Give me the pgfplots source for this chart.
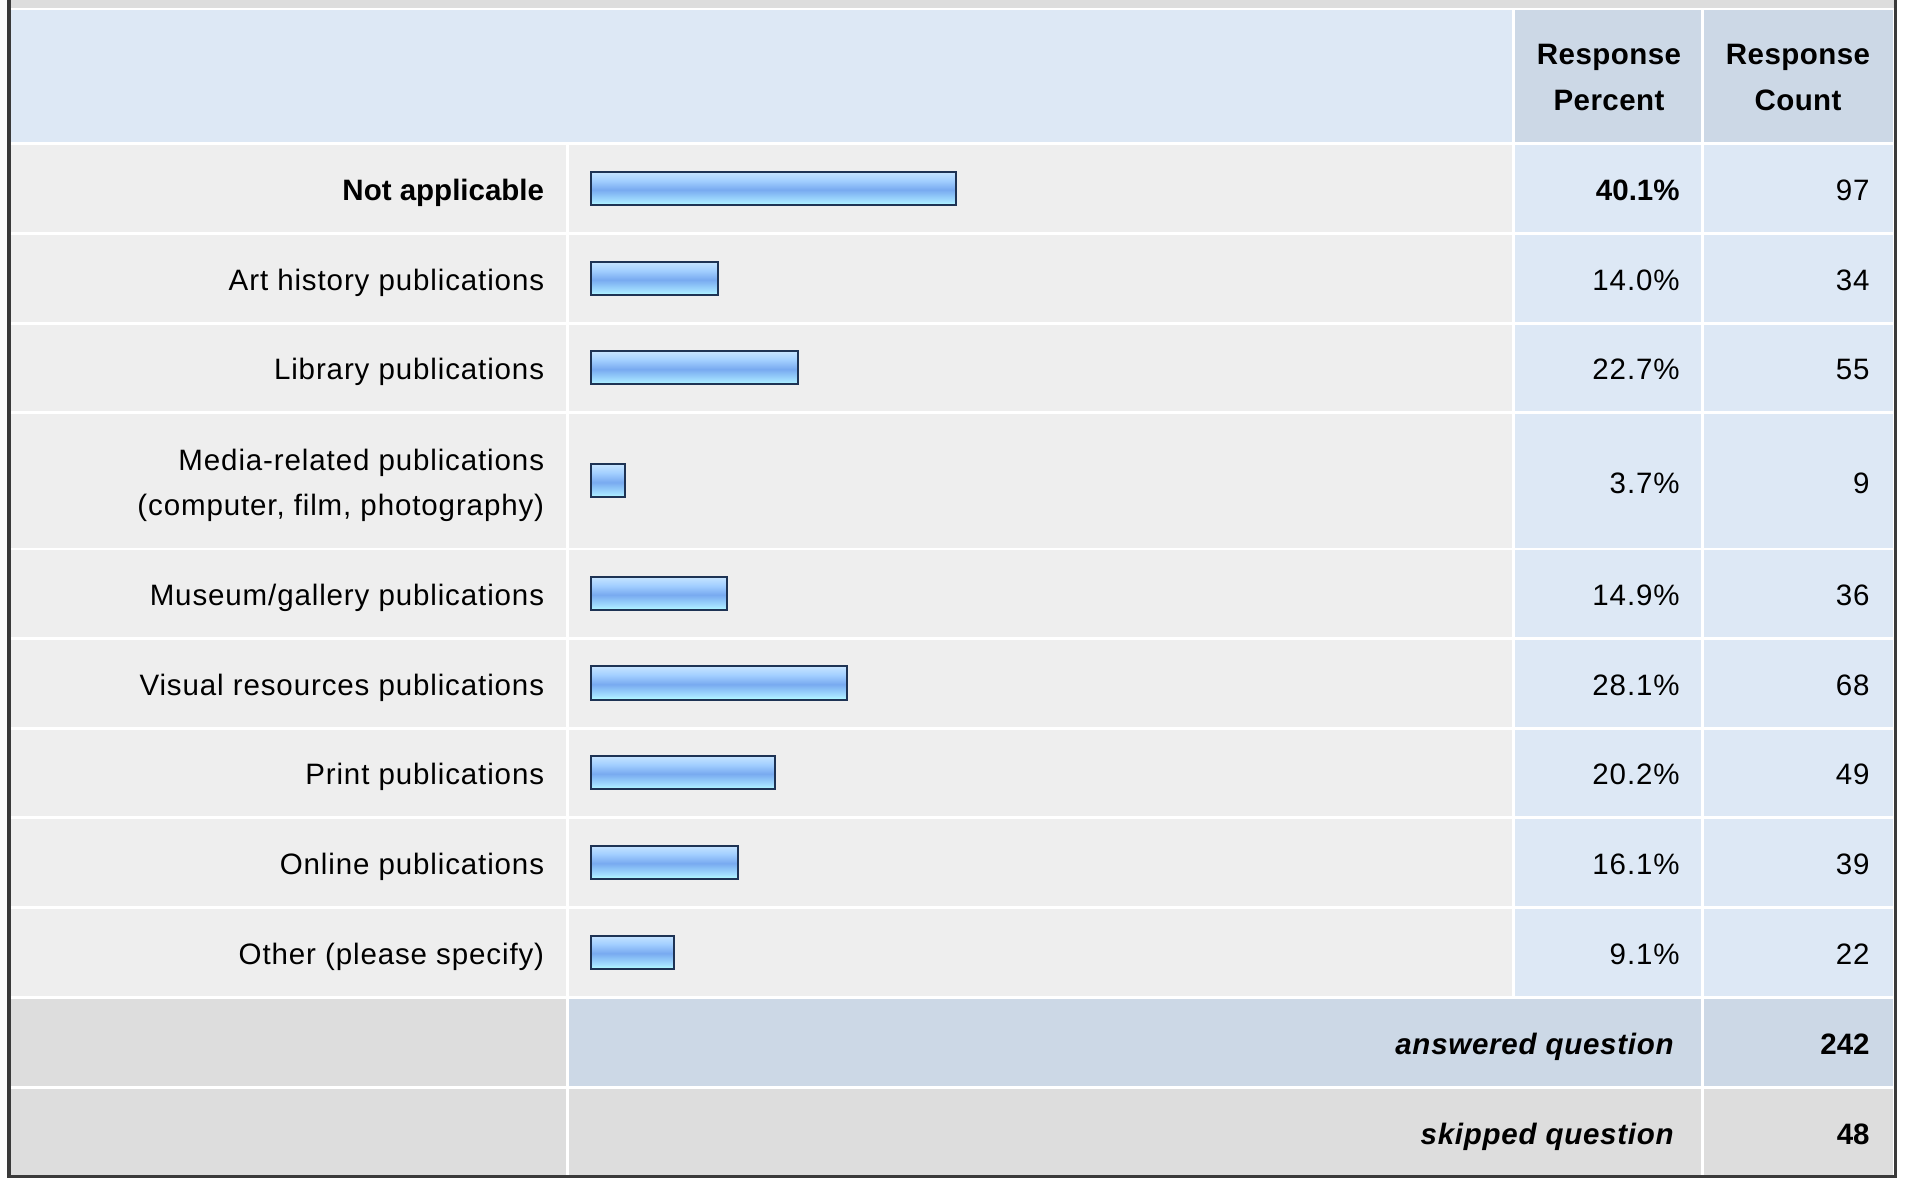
\documentclass[border=0pt]{standalone}
\usepackage{fontspec}
\setmainfont{Liberation Sans}
\usepackage{pgfplots}
\pgfplotsset{compat=1.18}
\definecolor{hdrblue}{HTML}{DDE8F5}
\definecolor{hdrdark}{HTML}{CCD8E6}
\definecolor{rowgrey}{HTML}{EEEEEE}
\definecolor{footgrey}{HTML}{DDDDDD}
\definecolor{bordercol}{HTML}{3A3A3A}
\definecolor{barborder}{HTML}{1E3354}
\definecolor{barbot}{HTML}{B2FDFF}
\definecolor{barlow}{HTML}{A4E0FF}
\definecolor{barmid}{HTML}{78AAF0}
\definecolor{barup}{HTML}{A2CFFF}
\definecolor{bartop}{HTML}{C6E4FF}
\pgfdeclareverticalshading{barshade}{100bp}{color(0bp)=(barbot); color(25bp)=(barbot); color(31bp)=(barlow); color(48bp)=(barmid); color(62bp)=(barup); color(75bp)=(bartop); color(100bp)=(bartop)}
\pgfplotsset{barsty/.style={draw=barborder, line width=1bp, shading=barshade}}
\newcommand\fs{\fontsize{14.75bp}{22.5bp}\selectfont}
\newcommand\rg{\addfontfeatures{LetterSpace=3}}
\newcommand\bi{\bfseries\itshape\addfontfeatures{LetterSpace=2.5}}
\newcommand\hb{\bfseries\addfontfeatures{LetterSpace=1.5}}
\begin{document}
\begin{tikzpicture}
\begin{scope}[x=0.5bp,y=-0.5bp]
\path[use as bounding box] (0,0) rectangle (1909,1178);
\fill[white] (0,0) rectangle (1909,1178);
\fill[footgrey] (8,0) rectangle (1896,8.5);
% header
\fill[hdrblue] (11,10) rectangle (1512,142.5);
\fill[hdrdark] (1514.5,10) rectangle (1701,142.5);
\fill[hdrdark] (1703.5,10) rectangle (1893,142.5);
% data rows
\foreach \t/\b in {145/232.5, 235/322.5, 325/411.5, 414/548, 550/637, 639.5/727, 729.5/816, 818.5/906, 908.5/996}{
  \fill[rowgrey] (11,\t) rectangle (566,\b);
  \fill[rowgrey] (568.5,\t) rectangle (1512,\b);
  \fill[hdrblue] (1514.5,\t) rectangle (1701,\b);
  \fill[hdrblue] (1703.5,\t) rectangle (1893,\b);
}
% answered
\fill[footgrey] (11,998.5) rectangle (566,1086);
\fill[hdrdark] (568.5,998.5) rectangle (1701,1086);
\fill[hdrdark] (1703.5,998.5) rectangle (1893,1086);
% skipped
\fill[footgrey] (11,1088.5) rectangle (566,1175);
\fill[footgrey] (568.5,1088.5) rectangle (1701,1175);
\fill[footgrey] (1703.5,1088.5) rectangle (1893,1175);
% frame
\fill[bordercol] (7,0) rectangle (10.5,1178);
\fill[bordercol] (1893.5,0) rectangle (1897,1178);
\fill[bordercol] (7,1175) rectangle (1897,1178);
\end{scope}

\begin{axis}[
  at={(295.5bp,0bp)}, anchor=north west,
  x=4.55bp, y=0.5bp,
  xmin=0, xmax=80, ymin=-1178, ymax=0,
  axis lines=none, clip=false,
  xbar, bar width=33, bar shift=0pt,
]
\addplot[barsty] coordinates {(40.1,-188.5)};
\addplot[barsty] coordinates {(14.0,-278.5)};
\addplot[barsty] coordinates {(22.7,-368)};
\addplot[barsty] coordinates {(3.7,-481)};
\addplot[barsty] coordinates {(14.9,-593.5)};
\addplot[barsty] coordinates {(28.1,-683)};
\addplot[barsty] coordinates {(20.2,-772.5)};
\addplot[barsty] coordinates {(16.1,-862)};
\addplot[barsty] coordinates {(9.1,-952)};
\end{axis}

\begin{scope}[x=0.5bp,y=-0.5bp, every node/.style={inner sep=0pt, font=\fs}]
% header
\node[anchor=base] at (1609,65) {\hb Response};
\node[anchor=base] at (1609,111) {\hb Percent};
\node[anchor=base] at (1798,65) {\hb Response};
\node[anchor=base] at (1798,111) {\hb Count};
% labels
\node[anchor=base east] at (544.5,200.5) {\bfseries Not applicable};
\node[anchor=base east] at (544.5,290.5) {\rg Art history publications};
\node[anchor=base east] at (544.5,380) {\rg Library publications};
\node[anchor=base east] at (544.5,470) {\rg Media-related publications};
\node[anchor=base east] at (544.5,515) {\rg (computer, film, photography)};
\node[anchor=base east] at (544.5,605.5) {\rg Museum/gallery publications};
\node[anchor=base east] at (544.5,695) {\rg Visual resources publications};
\node[anchor=base east] at (544.5,784.5) {\rg Print publications};
\node[anchor=base east] at (544.5,874) {\rg Online publications};
\node[anchor=base east] at (544.5,964) {\rg Other (please specify)};
% percents
\node[anchor=base east] at (1680,200.5) {\bfseries 40.1\%};
\node[anchor=base east] at (1680,290.5) {\rg 14.0\%};
\node[anchor=base east] at (1680,380) {\rg 22.7\%};
\node[anchor=base east] at (1680,493) {\rg 3.7\%};
\node[anchor=base east] at (1680,605.5) {\rg 14.9\%};
\node[anchor=base east] at (1680,695) {\rg 28.1\%};
\node[anchor=base east] at (1680,784.5) {\rg 20.2\%};
\node[anchor=base east] at (1680,874) {\rg 16.1\%};
\node[anchor=base east] at (1680,964) {\rg 9.1\%};
% counts
\node[anchor=base east] at (1870,200.5) {\rg 97};
\node[anchor=base east] at (1870,290.5) {\rg 34};
\node[anchor=base east] at (1870,380) {\rg 55};
\node[anchor=base east] at (1870,493) {\rg 9};
\node[anchor=base east] at (1870,605.5) {\rg 36};
\node[anchor=base east] at (1870,695) {\rg 68};
\node[anchor=base east] at (1870,784.5) {\rg 49};
\node[anchor=base east] at (1870,874) {\rg 39};
\node[anchor=base east] at (1870,964) {\rg 22};
% footer
\node[anchor=base east] at (1674,1054) {\bi answered question};
\node[anchor=base east] at (1870,1054) {\bfseries 242};
\node[anchor=base east] at (1674,1144) {\bi skipped question};
\node[anchor=base east] at (1870,1144) {\bfseries 48};
\end{scope}
\end{tikzpicture}
\end{document}
